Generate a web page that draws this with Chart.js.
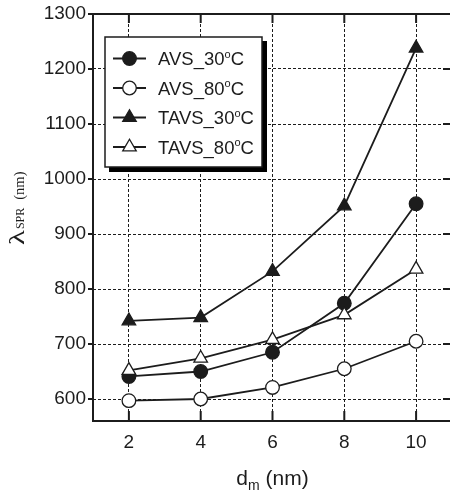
<!DOCTYPE html>
<html>
<head>
<meta charset="utf-8">
<script src="https://cdn.jsdelivr.net/npm/chart.js@4.4.0/dist/chart.umd.min.js"></script>
<style>
  html, body { margin: 0; padding: 0; background: #fff; overflow: hidden; }
  #wrap { width: 452px; height: 495px; }
</style>
</head>
<body>
<div id="wrap"><canvas id="chart" width="452" height="495"></canvas></div>
<script>
// --- data ---
const thickness = [2, 4, 6, 8, 10];            // d_m (nm)
const avs30 = [641, 650, 685, 774, 955];
const avs80 = [597, 600, 621, 655, 705];
const tavs30 = [742, 748, 832, 951, 1238];
const tavs80 = [652, 674, 708, 753, 836];
const seriesNames = ["AVS_30", "AVS_80", "TAVS_30", "TAVS_80"];
const xTickValues = [2, 4, 6, 8, 10];
const yTickValues = [600, 700, 800, 900, 1000, 1100, 1200, 1300];

const INK = "#1c1c1c";
const SANS = "'Liberation Sans', Arial, sans-serif";
const SERIF = "'Liberation Serif', 'Times New Roman', serif";

function toPoints(vals) {
  return thickness.map((x, i) => ({ x, y: vals[i] }));
}

const styles = [
  { style: "circle", fill: INK, radius: 6.8 },
  { style: "circle", fill: "#fff", radius: 6.8 },
  { style: "triangle", fill: INK, radius: 7.8 },
  { style: "triangle", fill: "#fff", radius: 7.8 }
];

const datasets = [avs30, avs80, tavs30, tavs80].map((vals, i) => ({
  label: seriesNames[i],
  data: toPoints(vals),
  borderColor: INK,
  borderWidth: 1.8,
  pointStyle: styles[i].style,
  pointRadius: styles[i].radius,
  pointBackgroundColor: styles[i].fill,
  pointBorderColor: INK,
  pointBorderWidth: 1.3,
  tension: 0,
  order: 3 - i
}));

// draws a marker the same way Chart.js does
function marker(ctx, kind, fill, r, x, y) {
  ctx.save();
  ctx.beginPath();
  if (kind === "circle") {
    ctx.arc(x, y, r, 0, Math.PI * 2);
  } else {
    let rad = 0;
    ctx.moveTo(x + Math.sin(rad) * r, y - Math.cos(rad) * r);
    rad += Math.PI * 2 / 3;
    ctx.lineTo(x + Math.sin(rad) * r, y - Math.cos(rad) * r);
    rad += Math.PI * 2 / 3;
    ctx.lineTo(x + Math.sin(rad) * r, y - Math.cos(rad) * r);
    ctx.closePath();
  }
  ctx.fillStyle = fill;
  ctx.fill();
  ctx.lineWidth = 1.3;
  ctx.strokeStyle = INK;
  ctx.stroke();
  ctx.restore();
}

// --- frame, inward ticks, legend, axis titles ---
const decor = {
  id: "decor",
  afterDatasetsDraw(chart) {
    const { ctx, chartArea: a, scales } = chart;
    ctx.save();
    // frame
    ctx.strokeStyle = INK;
    ctx.lineWidth = 2;
    ctx.beginPath();
    ctx.moveTo(a.right, a.top);
    ctx.lineTo(a.left, a.top);
    ctx.lineTo(a.left, a.bottom);
    ctx.lineTo(a.right, a.bottom);
    ctx.lineTo(a.right, a.top);
    ctx.stroke();
    // tick marks
    ctx.beginPath();
    xTickValues.forEach(v => {
      const px = scales.x.getPixelForValue(v);
      ctx.moveTo(px, a.bottom);
      ctx.lineTo(px, a.bottom - 10);
      ctx.moveTo(px, a.top);
      ctx.lineTo(px, a.top + 9);
    });
    yTickValues.forEach(v => {
      const py = scales.y.getPixelForValue(v);
      ctx.moveTo(a.left - 5, py);
      ctx.lineTo(a.left, py);
      ctx.moveTo(a.right, py);
      ctx.lineTo(a.right - 9, py);
    });
    ctx.stroke();

    // legend box with shadow
    const bx = a.left + 12, by = a.top + 23, bw = 157, bh = 130;
    ctx.fillStyle = "#000";
    ctx.fillRect(bx + 4, by + 4, bw + 1, bh + 1);
    ctx.fillStyle = "#fff";
    ctx.fillRect(bx, by, bw, bh);
    ctx.lineWidth = 1.5;
    ctx.strokeStyle = INK;
    ctx.strokeRect(bx, by, bw, bh);

    seriesNames.forEach((name, i) => {
      const ry = by + 21.5 + i * 29.5;
      ctx.beginPath();
      ctx.lineWidth = 1.8;
      ctx.moveTo(bx + 8, ry);
      ctx.lineTo(bx + 41, ry);
      ctx.stroke();
      marker(ctx, styles[i].style, styles[i].fill, styles[i].radius, bx + 24.5, ry);
      ctx.fillStyle = INK;
      ctx.textBaseline = "alphabetic";
      ctx.textAlign = "left";
      ctx.font = "18.5px " + SANS;
      let tx = bx + 53;
      const base = ry + 6.5;
      ctx.fillText(name, tx, base);
      tx += ctx.measureText(name).width;
      ctx.font = "11px " + SANS;
      ctx.fillText("o", tx, base - 7.5);
      tx += ctx.measureText("o").width;
      ctx.font = "18.5px " + SANS;
      ctx.fillText("C", tx, base);
    });
    ctx.restore();
  },
  afterDraw(chart) {
    const { ctx, chartArea: a } = chart;
    ctx.save();
    ctx.fillStyle = INK;
    ctx.textBaseline = "alphabetic";
    ctx.textAlign = "left";

    // x title: d_m (nm)
    ctx.font = "21px " + SANS;
    const wd = ctx.measureText("d").width;
    const wn = ctx.measureText(" (nm)").width;
    ctx.font = "14px " + SANS;
    const wm = ctx.measureText("m").width;
    let x0 = (a.left + a.right) / 2 - (wd + wm + wn) / 2;
    const yb = 485;
    ctx.font = "21px " + SANS;
    ctx.fillText("d", x0, yb);
    ctx.font = "14px " + SANS;
    ctx.fillText("m", x0 + wd, yb + 5);
    ctx.font = "21px " + SANS;
    ctx.fillText(" (nm)", x0 + wd + wm, yb);

    // y title: λ_SPR (nm), rotated, starts at y=245
    ctx.translate(24, 245);
    ctx.rotate(-Math.PI / 2);
    ctx.save();
    ctx.scale(1.4, 1);
    ctx.font = "22px " + SERIF;
    ctx.fillText("λ", 0, 0);
    const wl = ctx.measureText("λ").width * 1.4;
    ctx.restore();
    ctx.font = "12px " + SERIF;
    ctx.fillText("SPR", wl + 1, 0);
    const ws = ctx.measureText("SPR").width;
    ctx.font = "14.5px " + SERIF;
    ctx.fillText("(nm)", wl + 1 + ws + 8, 0);
    ctx.restore();
  }
};

new Chart(document.getElementById("chart"), {
  type: "line",
  data: { datasets },
  options: {
    responsive: false,
    animation: false,
    layout: { autoPadding: false, padding: { top: 14, left: 0, right: 0, bottom: 0 } },
    plugins: { legend: { display: false }, tooltip: { enabled: false } },
    scales: {
      x: {
        type: "linear",
        min: 1,
        max: 11,
        afterBuildTicks: s => { s.ticks = xTickValues.map(v => ({ value: v })); },
        afterFit: s => { s.height = 74; s.paddingLeft = 0; s.paddingRight = 0; },
        grid: { color: INK, lineWidth: 1, drawTicks: false },
        border: { display: false, dash: [3, 2] },
        ticks: { padding: 10, color: INK, font: { family: SANS, size: 19 } }
      },
      y: {
        min: 560,
        max: 1300,
        afterBuildTicks: s => { s.ticks = yTickValues.map(v => ({ value: v })); },
        afterFit: s => { s.width = 93; s.paddingTop = 0; s.paddingBottom = 0; },
        grid: { color: INK, lineWidth: 1, drawTicks: false },
        border: { display: false, dash: [3, 2] },
        ticks: {
          padding: 7,
          color: INK,
          font: { family: SANS, size: 19 },
          callback: v => String(v)
        }
      }
    }
  },
  plugins: [decor]
});
</script>
</body>
</html>
